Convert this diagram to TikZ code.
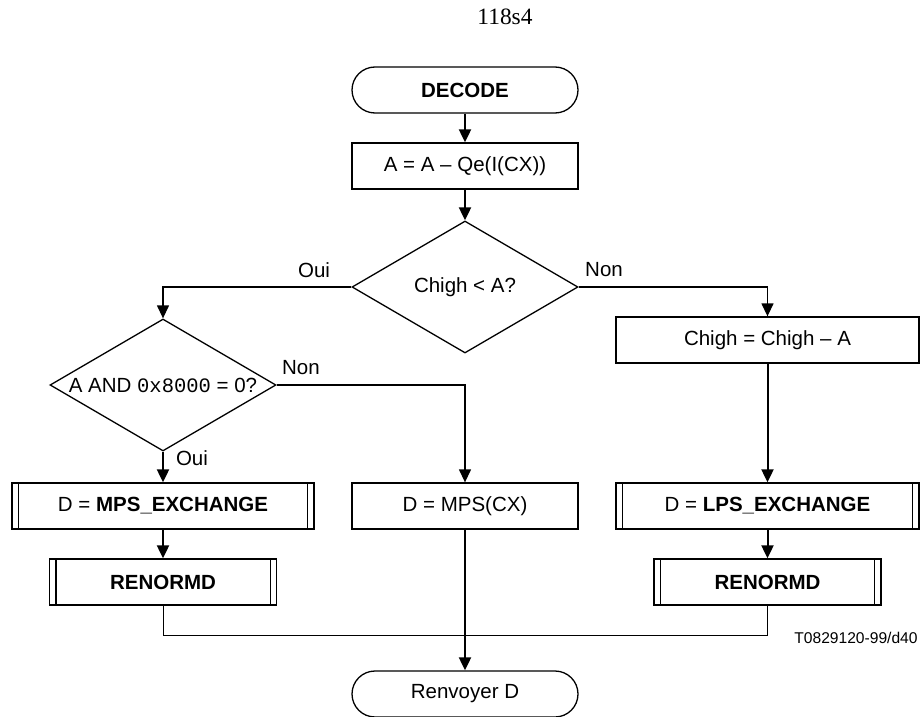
\documentclass[tikz,border=0pt]{standalone}
\usepackage{fontspec}
\setmainfont{Liberation Serif}
\setsansfont{Liberation Sans}
\setmonofont{Liberation Mono}
\usetikzlibrary{arrows.meta,shapes.geometric}

\tikzset{
  box/.style={draw, line width=0.65pt, minimum height=23pt, inner sep=0pt},
  term/.style={box, rounded corners=11.5pt, minimum width=113pt},
  test/.style={draw, line width=0.65pt, diamond, aspect=1.7, inner sep=0pt,
    minimum width=113pt, minimum height=66pt},
  go/.style={line width=1pt, -{Triangle[length=6.5pt,width=6pt]}},
  branch/.style={line width=0.65pt, -{Triangle[length=6.5pt,width=6pt]}},
}

\begin{document}
\begin{tikzpicture}[x=0.5pt, y=-0.5pt, font=\sffamily\fontsize{10.25}{12}\selectfont]
  \useasboundingbox (0,0) rectangle (922,717);
  \node[font=\rmfamily\fontsize{11.7}{14}\selectfont] (folio) at (505,17) {118s4};

  % main column
  \node[term] (decode) at (465,90) {\textbf{DECODE}};
  \node[box, minimum width=113pt] (abox) at (465,166) {A = A – Qe(I(CX))};
  \node[test] (d1) at (465,287) {Chigh < A?};
  \node[test] (d2) at (163,385) {A AND \texttt{0x8000} = 0?};
  \node[box, minimum width=151.5pt] (chigh) at (767.5,340) {Chigh = Chigh – A};
  \node[box, minimum width=151pt] (mpsx) at (163,506) {D = \textbf{MPS\_EXCHANGE}};
  \node[box, minimum width=113pt] (mpscx) at (465,506) {D = MPS(CX)};
  \node[box, minimum width=151.5pt] (lpsx) at (767.5,506) {D = \textbf{LPS\_EXCHANGE}};
  \node[box, minimum width=113.5pt] (renl) at (163,582) {\textbf{RENORMD}};
  \node[box, minimum width=113.5pt] (renr) at (767.5,582) {\textbf{RENORMD}};
  \node[term] (renv) at (465,694) {Renvoyer D};

  % side bars of the subroutine boxes
  \foreach \n in {mpsx,lpsx,renl,renr} {
    \draw[line width=0.65pt] ([xshift=3.5pt]\n.north west) -- ([xshift=3.5pt]\n.south west);
    \draw[line width=0.65pt] ([xshift=-3.5pt]\n.north east) -- ([xshift=-3.5pt]\n.south east);
  }

  % branch labels
  \node (oui1) at (314,270) {Oui};
  \node (non1) at (604,270) {Non};
  \node (non2) at (301,368) {Non};
  \node (oui2) at (192,458) {Oui};
  \node[font=\sffamily\fontsize{7.8}{9}\selectfont] (ref) at (856,638) {T0829120-99/d40};

  \draw[go] (decode) -- (abox);
  \draw[go] (abox) -- (d1);
  \draw[branch] (d1.west) -| (d2.north);
  \draw[branch] (d1.east) -| (chigh.north);
  \draw[branch] (d2.east) -| (mpscx.north);
  \draw[go] (d2) -- (mpsx);
  \draw[go] (chigh) -- (lpsx);
  \draw[go] (mpsx) -- (renl);
  \draw[go] (lpsx) -- (renr);
  \draw[go] (mpscx) -- (renv);
  \draw[line width=0.5pt] (renl.south) -- ++(0,30) -| (renr.south);
\end{tikzpicture}
\end{document}
